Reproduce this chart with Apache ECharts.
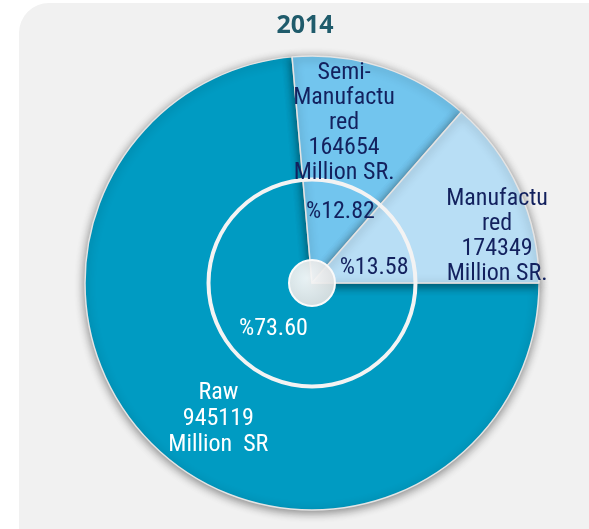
<!DOCTYPE html>
<html lang="en">
<head>
    <meta charset="utf-8" />
    <style>
        html, body { margin: 0; padding: 0; background: #fff; }
        #view1 { width: 589px; height: 529px; }
    </style>
</head>
<body>

<div id="view1"></div>

<script src="https://cdn.jsdelivr.net/npm/echarts@6/dist/echarts.min.js"></script>

<script>
    // data
    var year = "2014";
    var categories = ["Raw", "Semi-Manufactured", "Manufactured"];
    var values = [945119, 164654, 174349];
    var labelNames = ["Raw", "Semi-\nManufactu\nred", "Manufactu\nred"];
    var labelUnits = ["Million  SR", "Million SR.", "Million SR."];

    var colors = ["#009bc2", "#72c5ee", "#b8def5"];
    var textColors = ["#ffffff", "#13215e", "#13215e"];
    var lineHeights = [26, 25, 25];
    var font = "'Roboto Condensed', 'DejaVu Sans Condensed', sans-serif";

    // label nudges from the 'inside' position
    var nameShift = [[-15, 50], [-4, -49], [79, 2]];
    var pctShift = [[6, -3], [8, -8], [2, 12]];

    var CX = 312, CY = 283;

    window.onload = function () {
        var chart = echarts.init(document.getElementById("view1"));

        var items = categories.map(function (c, i) {
            return { name: c, value: values[i], itemStyle: { color: colors[i] },
                     label: { color: textColors[i], lineHeight: lineHeights[i] } };
        });

        var option = {
            animation: false,
            graphic: [{
                type: "rect", z: -10,
                shape: { x: 19, y: 3, width: 600, height: 560, r: 30 },
                style: { fill: "#f1f1f1" }
            }],
            title: {
                text: year, left: 300, top: 8, textAlign: "center",
                textStyle: { fontFamily: "'Noto Sans', sans-serif", fontWeight: "bold", fontSize: 25, color: "#1f5b6b" }
            },
            series: [
                {
                    type: "pie", center: [CX, CY], radius: [0, 227], startAngle: 0,
                    clockwise: true, silent: true,
                    data: items,
                    itemStyle: {
                        borderColor: "#e4e4e4", borderWidth: 1.5,
                        shadowBlur: 10, shadowColor: "rgba(0,0,0,0.45)", shadowOffsetY: 2
                    },
                    label: {
                        position: "inside", fontFamily: font, fontSize: 24,
                        formatter: function (p) {
                            return labelNames[p.dataIndex] + "\n" + p.value + "\n" + labelUnits[p.dataIndex];
                        }
                    },
                    labelLayout: function (p) {
                        return { dx: nameShift[p.dataIndex][0], dy: nameShift[p.dataIndex][1] };
                    },
                    labelLine: { show: false }
                },
                {
                    type: "pie", center: [CX, CY], radius: [101.5, 105.5], silent: true,
                    data: [{ value: 1 }],
                    itemStyle: { color: "#f3f3f3" },
                    label: { show: false }, labelLine: { show: false }
                },
                {
                    type: "pie", center: [CX, CY], radius: [0, 23], silent: true,
                    data: [{ value: 1 }],
                    itemStyle: {
                        color: {
                            type: "radial", x: 0.4, y: 0.4, r: 0.7,
                            colorStops: [{ offset: 0, color: "rgba(250,250,250,0.93)" }, { offset: 1, color: "rgba(220,220,220,0.93)" }]
                        },
                        borderColor: "#fafafa", borderWidth: 2
                    },
                    label: { show: false }, labelLine: { show: false }
                },
                {
                    type: "pie", center: [CX, CY], radius: [23, 103], startAngle: 0, silent: true,
                    data: categories.map(function (c, i) {
                        return { name: c, value: values[i], label: { color: textColors[i] } };
                    }),
                    itemStyle: { color: "rgba(0,0,0,0)" },
                    label: {
                        position: "inside", fontFamily: font, fontSize: 24,
                        formatter: function (p) { return "%" + p.percent.toFixed(2); }
                    },
                    labelLayout: function (p) {
                        return { dx: pctShift[p.dataIndex][0], dy: pctShift[p.dataIndex][1] };
                    },
                    labelLine: { show: false }
                }
            ]
        };

        chart.setOption(option);
    };
</script>

</body>
</html>
